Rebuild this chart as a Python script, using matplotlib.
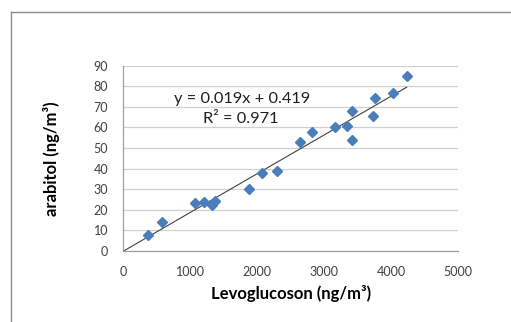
import numpy as np
import matplotlib
matplotlib.use("Agg")
import matplotlib.pyplot as plt
from matplotlib.lines import Line2D

levoglucosan = [363, 582, 1065, 1204, 1318, 1373, 1876, 2075, 2294, 2637,
                2821, 3164, 3338, 3408, 3408, 3721, 3751, 4020, 4229]
arabitol = [7.8, 13.9, 23.3, 23.6, 22.3, 24.4, 30.1, 37.7, 39.0, 52.8,
            57.6, 60.0, 60.8, 68.0, 53.9, 65.7, 74.1, 76.7, 85.0]
equation_text = "y = 0.019x + 0.419"
r2_text = "R² = 0.971"
x_ticks = [0, 1000, 2000, 3000, 4000, 5000]
y_ticks = [0, 10, 20, 30, 40, 50, 60, 70, 80, 90]

plt.rcParams['font.family'] = ['Lato', 'DejaVu Sans']

fig = plt.figure(figsize=(5.11, 3.22), dpi=100)
ax = fig.add_axes([0.2413, 0.2205, 0.6556, 0.5755])

x = np.array(levoglucosan, dtype=float)
y = np.array(arabitol, dtype=float)
slope, intercept = np.polyfit(x, y, 1)
xl = np.array([0.0, x.max()])
ax.plot(xl, slope * xl + intercept, color='#404040', lw=0.8, zorder=2)
ax.plot(x, y, linestyle='none', marker='D', markersize=5.3,
        markerfacecolor='#4A7EBB', markeredgecolor='#4A7EBB', zorder=3)

ax.set_xlim(0, 5000)
ax.set_ylim(0, 90)
ax.set_xticks(x_ticks)
ax.set_yticks(y_ticks)
ax.grid(axis='y', color='#D0D0D0', lw=0.9)
ax.set_axisbelow(True)
for s in ['top', 'right']:
    ax.spines[s].set_visible(False)
for s in ['left', 'bottom']:
    ax.spines[s].set_color('#A0A0A0')
    ax.spines[s].set_linewidth(0.9)
ax.tick_params(length=0, labelsize=9, colors='#404040')
ax.tick_params(axis='x', pad=11)
ax.tick_params(axis='y', pad=11)
ax.set_xlabel("Levoglucoson (ng/m³)", fontsize=12, fontweight='bold', labelpad=5)
ax.set_ylabel("arabitol (ng/m³)", fontsize=12, fontweight='bold', labelpad=24)

ax.text(0.354, 0.82, equation_text, transform=ax.transAxes, ha='center',
        va='center', fontsize=11.8, color='#202020')
ax.text(0.352, 0.715, r2_text, transform=ax.transAxes, ha='center',
        va='center', fontsize=11.8, color='#202020')

# chart frame (top and left edges visible)
fig.add_artist(Line2D([10.5/511, 1.0], [1 - 12/322, 1 - 12/322],
                      transform=fig.transFigure, color='#8C8C8C', lw=1.0))
fig.add_artist(Line2D([10.5/511, 10.5/511], [0.0, 1 - 12/322],
                      transform=fig.transFigure, color='#8C8C8C', lw=1.0))

fig.savefig("out.png", dpi=100)
